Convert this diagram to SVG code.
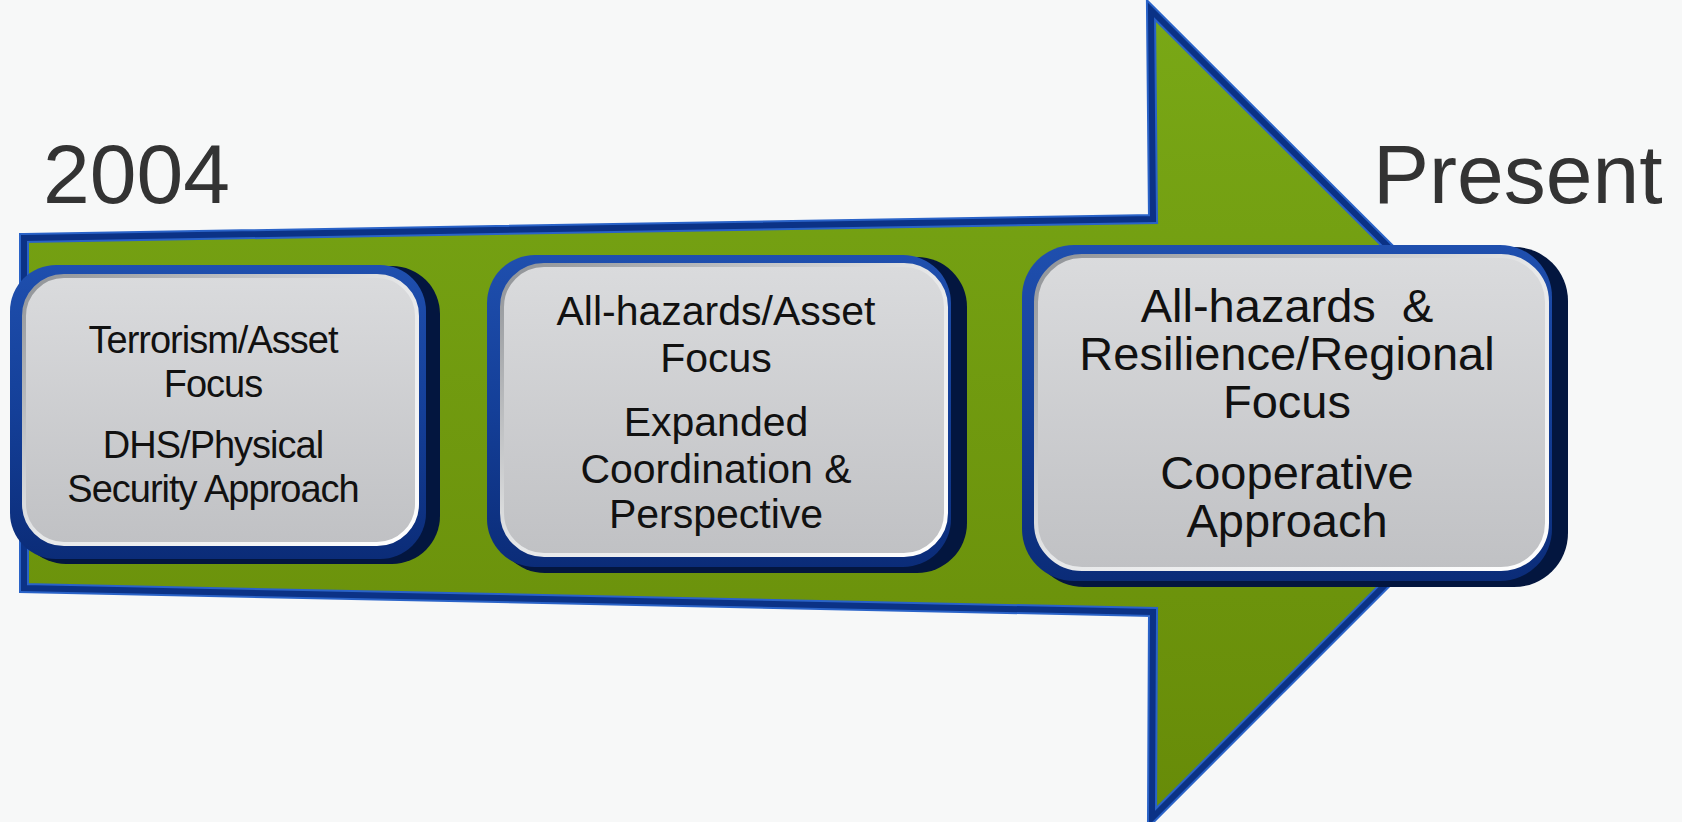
<svg xmlns="http://www.w3.org/2000/svg" width="1682" height="822" viewBox="0 0 1682 822">
  <defs>
    <linearGradient id="green" x1="0" y1="0" x2="0" y2="1">
      <stop offset="0" stop-color="#79a816"/>
      <stop offset="1" stop-color="#678b08"/>
    </linearGradient>
    <linearGradient id="rim" x1="0" y1="0" x2="0" y2="1">
      <stop offset="0" stop-color="#1f4fae"/>
      <stop offset="0.5" stop-color="#143f98"/>
      <stop offset="1" stop-color="#0b2c78"/>
    </linearGradient>
    <linearGradient id="face" x1="0" y1="0" x2="0" y2="1">
      <stop offset="0" stop-color="#dadbdd"/>
      <stop offset="1" stop-color="#c0c1c4"/>
    </linearGradient>
    <linearGradient id="bevel" x1="0" y1="0" x2="1" y2="1">
      <stop offset="0" stop-color="#8f9296"/>
      <stop offset="0.5" stop-color="#e6e7e8"/>
      <stop offset="1" stop-color="#ffffff"/>
    </linearGradient>
    <style>
      .year { font-family: "Liberation Sans", Arial, sans-serif; font-size: 84px; fill: #333333; }
      .t { font-family: "Liberation Sans", Arial, sans-serif; fill: #111111; text-anchor: middle; }
      .t1 { font-size: 38px; letter-spacing: -1px; }
      .t2 { font-size: 41px; }
      .t3 { font-size: 47px; }
      .shadow { fill: #03163f; }
      .rimr { fill: url(#rim); }
      .facer { fill: url(#face); stroke: url(#bevel); stroke-width: 4; }
    </style>
  </defs>
  <rect x="0" y="0" width="1682" height="822" fill="#f7f8f8"/>

  <g id="connectors">
    <polygon id="arrow" points="24,238 1153,219 1151,10 1556,414 1152,818 1153,612 24,588" fill="url(#green)" stroke="#2a63c8" stroke-width="10" stroke-linejoin="miter"/>
    <polygon points="24,238 1153,219 1151,10 1556,414 1152,818 1153,612 24,588" fill="none" stroke="#0b3286" stroke-width="6" stroke-linejoin="miter"/>
  </g>

  <g id="label-2004">
    <text class="year" x="43" y="203">2004</text>
  </g>
  <g id="label-present">
    <text class="year" x="1373" y="203">Present</text>
  </g>

  <g id="box1">
    <rect class="shadow" x="18" y="266" width="422" height="298" rx="48"/>
    <rect class="rimr" x="10" y="265" width="416" height="294" rx="46"/>
    <rect class="facer" x="24" y="276" width="393" height="268" rx="40"/>
    <text class="t t1" x="213" y="353">Terrorism/Asset</text>
    <text class="t t1" x="213" y="397">Focus</text>
    <text class="t t1" x="213" y="458">DHS/Physical</text>
    <text class="t t1" x="213" y="502">Security Approach</text>
  </g>

  <g id="box2">
    <rect class="shadow" x="495" y="257" width="472" height="316" rx="50"/>
    <rect class="rimr" x="487" y="255" width="464" height="312" rx="48"/>
    <rect class="facer" x="502" y="265" width="444" height="290" rx="42"/>
    <text class="t t2" x="716" y="325">All-hazards/Asset</text>
    <text class="t t2" x="716" y="372">Focus</text>
    <text class="t t2" x="716" y="436">Expanded</text>
    <text class="t t2" x="716" y="483">Coordination &amp;</text>
    <text class="t t2" x="716" y="528">Perspective</text>
  </g>

  <g id="box3">
    <rect class="shadow" x="1030" y="247" width="538" height="340" rx="54"/>
    <rect class="rimr" x="1022" y="245" width="530" height="336" rx="52"/>
    <rect class="facer" x="1036" y="256" width="511" height="313" rx="46"/>
    <text class="t t3" x="1287" y="322" xml:space="preserve">All-hazards  &amp;</text>
    <text class="t t3" x="1287" y="370">Resilience/Regional</text>
    <text class="t t3" x="1287" y="418">Focus</text>
    <text class="t t3" x="1287" y="489">Cooperative</text>
    <text class="t t3" x="1287" y="537">Approach</text>
  </g>
</svg>
